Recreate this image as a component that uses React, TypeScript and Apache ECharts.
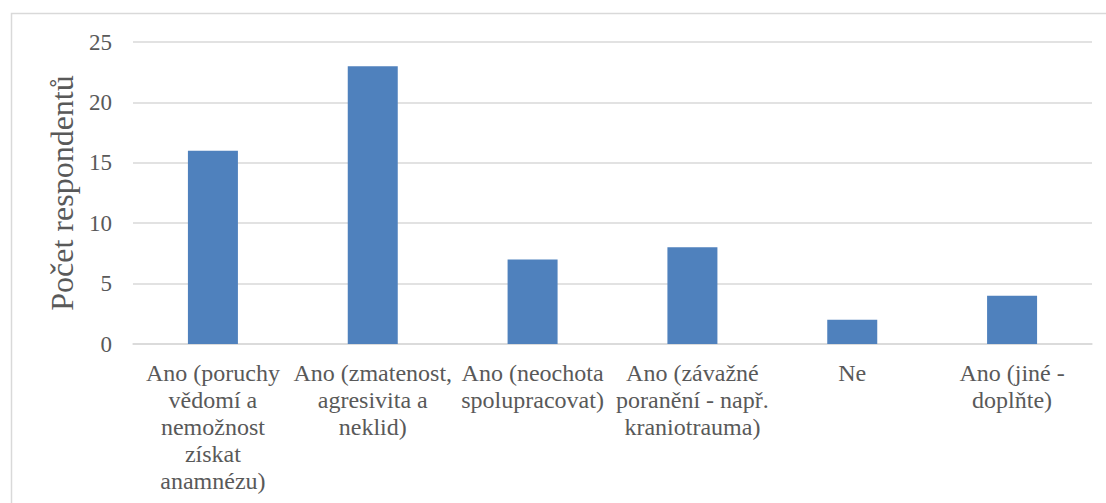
import React, { useEffect, useRef } from "react";
import * as echarts from "echarts";

// Categories (line breaks as they wrap under each bar)
const categories: string[] = [
  "Ano (poruchy\nvědomí a\nnemožnost\nzískat\nanamnézu)",
  "Ano (zmatenost,\nagresivita a\nneklid)",
  "Ano (neochota\nspolupracovat)",
  "Ano (závažné\nporanění - např.\nkraniotrauma)",
  "Ne",
  "Ano (jiné -\ndoplňte)",
];

// Number of respondents per answer
const respondents: number[] = [16, 23, 7, 8, 2, 4];

const yAxisTitle = "Počet respondentů";
const yMin = 0;
const yMax = 25;
const yStep = 5;

const FONT = "Liberation Serif";
const TEXT = "#595959";
const GRID = "#d9d9d9";
const BAR = "#4F81BD";

export default function App() {
  const ref = useRef<HTMLDivElement>(null);

  useEffect(() => {
    if (!ref.current) return;
    const chart = echarts.init(ref.current, null, { renderer: "svg" });
    chart.setOption({
      animation: false,
      backgroundColor: "#ffffff",
      textStyle: { fontFamily: FONT, color: TEXT },
      graphic: [
        {
          type: "rect",
          shape: { x: 11.5, y: 13.5, width: 1110, height: 600 },
          style: { fill: "none", stroke: GRID, lineWidth: 1.5 },
          silent: true,
          z: -1,
        },
      ],
      grid: { left: 133, right: 14, top: 42, bottom: 159, containLabel: false },
      xAxis: {
        type: "category",
        data: categories,
        axisLine: { show: true, lineStyle: { color: GRID, width: 1.5 } },
        axisTick: { show: false },
        axisLabel: {
          interval: 0,
          margin: 15,
          fontFamily: FONT,
          fontSize: 24,
          lineHeight: 27,
          color: TEXT,
          align: "center",
        },
      },
      yAxis: {
        type: "value",
        min: yMin,
        max: yMax,
        interval: yStep,
        name: yAxisTitle,
        nameLocation: "middle",
        nameGap: 52,
        nameRotate: 90,
        nameTextStyle: { fontFamily: FONT, fontSize: 32, color: TEXT },
        axisLine: { show: false },
        axisTick: { show: false },
        axisLabel: { fontFamily: FONT, fontSize: 23, color: TEXT, margin: 21 },
        splitLine: { lineStyle: { color: GRID, width: 1.5 } },
      },
      series: [
        {
          type: "bar",
          data: respondents,
          barWidth: 50,
          itemStyle: { color: BAR },
        },
      ],
    });
    return () => chart.dispose();
  }, []);

  return (
    <div
      ref={ref}
      style={{ position: "fixed", left: 0, top: 0, width: 1106, height: 503 }}
    />
  );
}
